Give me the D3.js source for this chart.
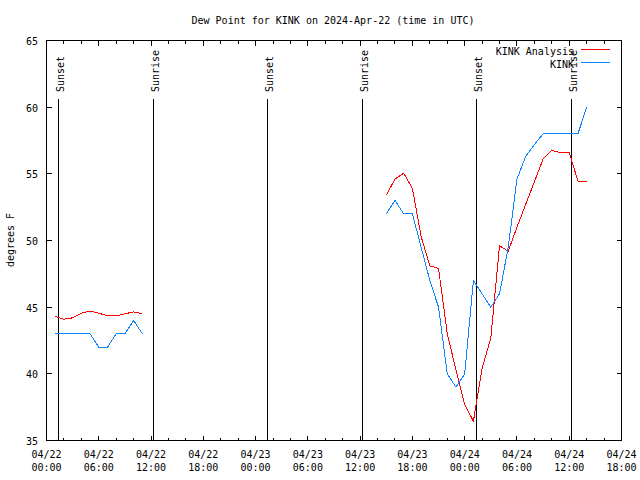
<!DOCTYPE html>
<html><head><meta charset="utf-8">
<script src="https://cdn.jsdelivr.net/npm/d3@7"></script>
<style>
body{margin:0;background:#fff}
svg{display:block}
text{font-family:"DejaVu Sans Mono","Liberation Mono",monospace;font-size:10px;fill:#000}
</style>
</head><body>
<svg id="chart" width="640" height="480"></svg>
<script>
// ---- data ----
const chartTitle = "Dew Point for KINK on 2024-Apr-22 (time in UTC)";
const yAxisLabel = "degrees F";
const seriesNames = ["KINK Analysis", "KINK"];
const seriesColors = ["#ff0000", "#0a84ff"];
const timeStart = "2024-04-22T00:00:00Z";
const timeEnd = "2024-04-24T18:00:00Z";
const yDomain = [35, 65];
const yTickValues = [35, 40, 45, 50, 55, 60, 65];
const sunLabels = ["Sunset", "Sunrise", "Sunset", "Sunrise", "Sunset", "Sunrise"];
const sunTimes = ["2024-04-22T01:21:00Z", "2024-04-22T12:15:00Z", "2024-04-23T01:21:00Z",
                  "2024-04-23T12:15:00Z", "2024-04-24T01:21:00Z", "2024-04-24T12:17:00Z"];
// hours after 2024-04-22 00:00 UTC
const seg1Hours = [1, 2, 3, 4, 5, 6, 7, 8, 9, 10, 11];
const seg1Analysis = [44.3, 44.1, 44.2, 44.55, 44.7, 44.55, 44.35, 44.35, 44.5, 44.65, 44.5];
const seg1Obs = [43, 43, 43, 43, 43, 42, 42, 43, 43, 44, 43];
const seg2Hours = [39, 40, 41, 42, 43, 44, 45, 46, 47, 48, 49, 50, 51, 52, 53, 54, 55, 56, 57, 58, 59, 60, 61, 62];
const seg2Analysis = [53.4, 54.6, 55.05, 53.9, 50.3, 48.1, 47.9, 43.0, 40.3, 37.7, 36.45, 40.4,
                      42.7, 49.6, 49.2, 51.0, 52.7, 54.4, 56.1, 56.75, 56.6, 56.6, 54.45, 54.45];
const seg2Obs = [52, 53, 52, 52, 49.5, 47, 45, 40, 39, 40, 47, 46,
                 45, 46, 49.5, 54.6, 56.3, 57.2, 58, 58, 58, 58, 58, 60];

// ---- drawing ----
const L = 46.5, R = 621.5, T = 40.5, B = 440.5;
const svg = d3.select("#chart");
const t0 = new Date(timeStart), t1 = new Date(timeEnd);
const x = d3.scaleUtc().domain([t0, t1]).range([L, R]);
const y = d3.scaleLinear().domain(yDomain).range([B, T]);
const hr = h => new Date(t0.getTime() + h * 3600e3);
const px = v => Math.round(v - 0.5) + 0.5;

// title
svg.append("text").attr("x", 333).attr("y", 24).attr("text-anchor", "middle").text(chartTitle);
// y label
svg.append("text").attr("transform", "translate(14,240) rotate(-90)").attr("text-anchor", "middle").text(yAxisLabel);

// ticks
const g = svg.append("g").attr("shape-rendering", "crispEdges").attr("stroke", "#000");
const minorTicks = d3.utcHour.every(2).range(t0, new Date(t1.getTime() + 1));
minorTicks.forEach(d => {
  const xx = px(x(d));
  const major = d.getUTCHours() % 6 === 0;
  const len = major ? 5 : 3;
  g.append("line").attr("x1", xx).attr("x2", xx).attr("y1", B).attr("y2", B - len);
  g.append("line").attr("x1", xx).attr("x2", xx).attr("y1", T).attr("y2", T + len);
});
yTickValues.forEach(v => {
  const yy = px(y(v));
  g.append("line").attr("x1", L).attr("x2", L + 5).attr("y1", yy).attr("y2", yy);
  g.append("line").attr("x1", R).attr("x2", R - 5).attr("y1", yy).attr("y2", yy);
  svg.append("text").attr("x", 38).attr("y", yy + 4).attr("text-anchor", "end").text(v);
});
const fmtD = d3.utcFormat("%m/%d"), fmtT = d3.utcFormat("%H:%M");
d3.utcHour.every(6).range(t0, new Date(t1.getTime() + 1)).forEach(d => {
  const xx = x(d);
  svg.append("text").attr("x", xx).attr("y", 458).attr("text-anchor", "middle").text(fmtD(d));
  svg.append("text").attr("x", xx).attr("y", 471).attr("text-anchor", "middle").text(fmtT(d));
});

// sunrise / sunset lines
sunTimes.forEach((s, i) => {
  const xx = px(x(new Date(s)));
  g.append("line").attr("x1", xx).attr("x2", xx).attr("y1", 99).attr("y2", B);
  svg.append("text").attr("transform", `translate(${xx + 5},92) rotate(-90)`).attr("text-anchor", "start").text(sunLabels[i]);
});

// frame
g.append("rect").attr("x", L).attr("y", T).attr("width", R - L).attr("height", B - T).attr("fill", "none");

// series
const line = d3.line().x(d => x(hr(d[0]))).y(d => y(d[1]));
const segs = [
  [seg1Hours, seg1Analysis, 0], [seg2Hours, seg2Analysis, 0],
  [seg1Hours, seg1Obs, 1], [seg2Hours, seg2Obs, 1]
];
segs.forEach(([hs, vs, k]) => {
  svg.append("path").datum(d3.zip(hs, vs)).attr("d", line)
    .attr("fill", "none").attr("stroke", seriesColors[k]).attr("stroke-width", 1)
    .attr("shape-rendering", "crispEdges");
});

// legend
seriesNames.forEach((n, i) => {
  const ly = [49.5, 62.5][i];
  svg.append("text").attr("x", 574).attr("y", ly + 5).attr("text-anchor", "end").text(n);
  svg.append("line").attr("x1", 581).attr("x2", 610).attr("y1", ly).attr("y2", ly)
    .attr("stroke", seriesColors[i]).attr("shape-rendering", "crispEdges");
});
</script>
</body></html>
